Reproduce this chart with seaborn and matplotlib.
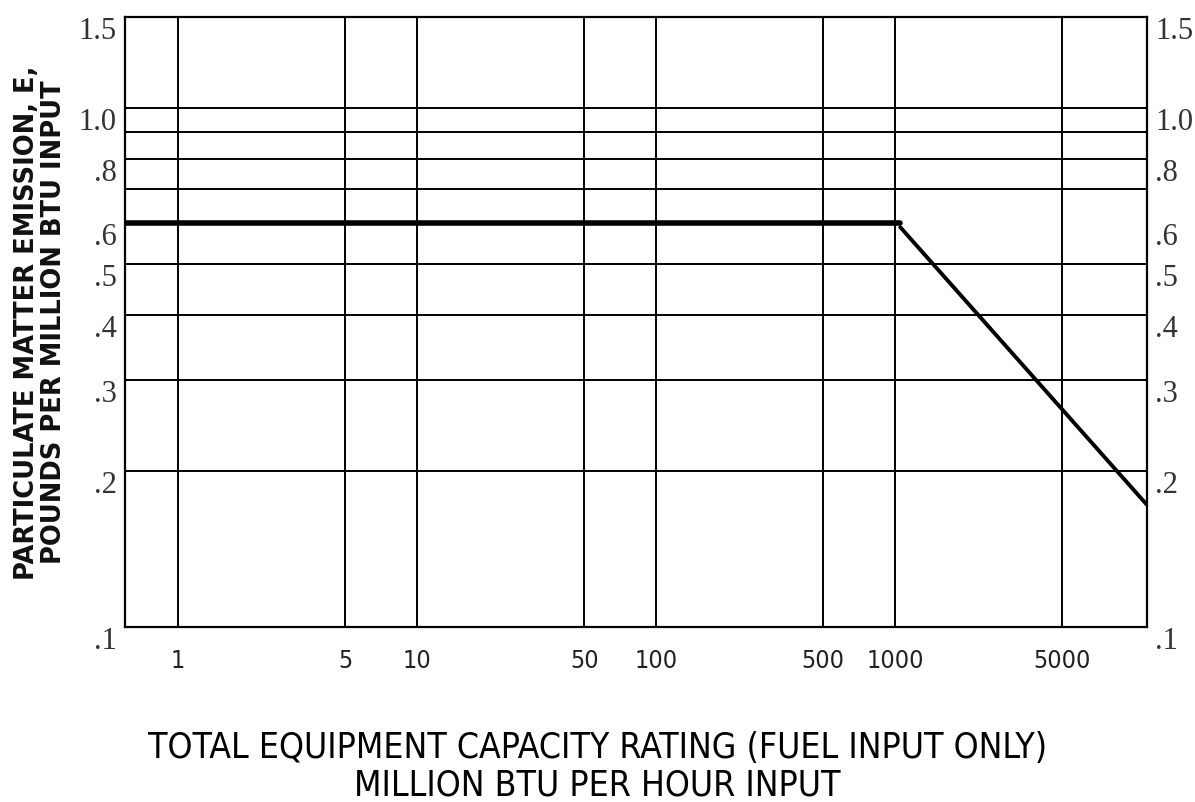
import matplotlib
matplotlib.use("Agg")
import matplotlib.pyplot as plt
import matplotlib.ticker as mticker
import pandas as pd
import seaborn as sns

# capacity grid (million BTU/hr) and emission grid (lb / million BTU)
x_ticks = [1, 5, 10, 50, 100, 500, 1000, 5000]
x_labels = ["1", "5", "10", "50", "100", "500", "1000", "5000"]
y_grid = [0.2, 0.3, 0.4, 0.5, 0.7, 0.8, 0.9, 1.0]
y_ticks = [0.1, 0.2, 0.3, 0.4, 0.5, 0.6, 0.8, 1.0, 1.5]
y_labels = [".1", ".2", ".3", ".4", ".5", ".6", ".8", "1.0", "1.5"]

# emission limit curve
flat_x = [0.6, 1050]
flat_y = [0.6, 0.6]
slope_x = [1050, 11300]
slope_y = [0.59, 0.172]

x_min, x_max = 0.6, 11300
y_min, y_max = 0.1, 1.5

sns.set_style("white")

fig = plt.figure(figsize=(11.95, 8.02), dpi=100)
ax = fig.add_axes([0.1046, 0.2182, 0.8552, 0.7606])
ax.set_xscale("log")
ax.set_yscale("log")

for y in y_grid:
    ax.axhline(y, color="black", lw=1.4, zorder=1)
for x in x_ticks:
    ax.axvline(x, color="black", lw=1.4, zorder=1)

flat = pd.DataFrame({"q": flat_x, "e": flat_y})
slope = pd.DataFrame({"q": slope_x, "e": slope_y})
sns.lineplot(data=flat, x="q", y="e", color="black", lw=4, ax=ax, zorder=3)
sns.lineplot(data=slope, x="q", y="e", color="black", lw=2.8, ax=ax, zorder=3)

ax.set_xlim(x_min, x_max)
ax.set_ylim(y_min, y_max)

ax.xaxis.set_minor_locator(mticker.NullLocator())
ax.yaxis.set_minor_locator(mticker.NullLocator())
ax.set_xticks(x_ticks)
ax.set_xticklabels(x_labels, family="DejaVu Sans", fontstretch="condensed",
                   fontweight="light", fontsize=18, color="#222222")
ax.set_yticks(y_ticks)
ax.set_yticklabels(y_labels, family="Liberation Serif", fontsize=22, color="#333333")
ax.tick_params(axis="x", length=0, pad=16)
ax.tick_params(axis="y", length=0, pad=6, labelright=True)
for lab in ax.get_yticklabels():
    lab.set_verticalalignment("top")

for side in ax.spines.values():
    side.set_color("black")
    side.set_linewidth(1.6)

ax.set_xlabel("")
ax.set_ylabel("")

fig.text(0.0335, 0.598, "PARTICULATE MATTER EMISSION, E,\nPOUNDS PER MILLION BTU INPUT",
         rotation=90, ha="center", va="center", fontsize=18.5, fontweight="bold",
         family="DejaVu Sans", linespacing=1.05, color="#111111")
fig.text(0.5, 0.044, "TOTAL EQUIPMENT CAPACITY RATING (FUEL INPUT ONLY)\nMILLION BTU PER HOUR INPUT",
         ha="center", va="center", fontsize=25.5, family="DejaVu Sans", fontstretch="condensed",
         linespacing=1.15, color="black")

fig.savefig("out.png", dpi=100)
